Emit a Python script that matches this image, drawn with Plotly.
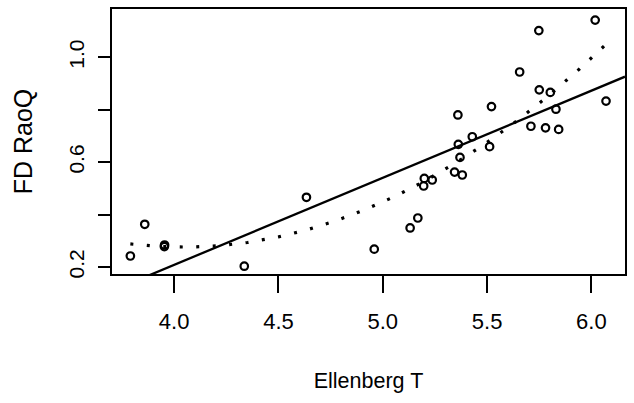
import numpy as np
import plotly.graph_objects as go

# Community-weighted Ellenberg temperature value per plot
ellenberg_t = [3.790, 3.859, 3.954, 3.953, 4.336, 4.634, 4.959, 5.131, 5.168, 5.196,
               5.199, 5.237, 5.344, 5.381, 5.370, 5.362, 5.360, 5.429, 5.521, 5.512,
               5.656, 5.748, 5.750, 5.803, 5.710, 5.780, 5.830, 5.843, 6.018, 6.070]
# Functional diversity (Rao's Q) per plot
fd_raoq = [0.242, 0.363, 0.284, 0.278, 0.203, 0.466, 0.268, 0.349, 0.387, 0.509,
           0.538, 0.532, 0.562, 0.551, 0.618, 0.668, 0.780, 0.697, 0.812, 0.659,
           0.944, 1.102, 0.876, 0.866, 0.737, 0.731, 0.802, 0.725, 1.142, 0.833]

# Fitted models: linear (slope, intercept) and quadratic in (T - 5)
linear_fit = [0.3323, -1.121]
quadratic_fit = [0.1886, 0.3605, 0.448]
quadratic_center = 5.0

x_ticks = [4.0, 4.5, 5.0, 5.5, 6.0]
x_tick_text = ["4.0", "4.5", "5.0", "5.5", "6.0"]
y_ticks = [0.2, 0.4, 0.6, 0.8, 1.0]
y_tick_text = ["0.2", "", "0.6", "", "1.0"]

x_range = [3.702, 6.161]
y_range = [0.1733, 1.1843]

x = np.array(ellenberg_t)
x_line = np.array(x_range)
x_curve = np.linspace(x.min(), x.max(), 200)

FONT = "Liberation Sans, Arial, Helvetica, sans-serif"

fig = go.Figure()
# quadratic trend, dotted
fig.add_trace(go.Scatter(
    x=x_curve, y=np.polyval(quadratic_fit, x_curve - quadratic_center), mode="lines",
    line=dict(color="black", width=3.2, dash="3px,13.5px"),
    hoverinfo="skip"))
# linear regression line across the full panel
fig.add_trace(go.Scatter(
    x=x_line, y=np.polyval(linear_fit, x_line), mode="lines",
    line=dict(color="black", width=2.3),
    hoverinfo="skip"))
fig.add_trace(go.Scatter(
    x=ellenberg_t, y=fd_raoq, mode="markers",
    marker=dict(symbol="circle-open", size=7.5, color="black",
                line=dict(color="black", width=2.2))))

fig.update_layout(
    width=634, height=403,
    margin=dict(l=112, r=7, t=9, b=129),
    paper_bgcolor="white", plot_bgcolor="white",
    showlegend=False,
    font=dict(family=FONT, color="black"),
)
fig.update_xaxes(
    range=x_range, tickvals=x_ticks, ticktext=x_tick_text,
    showgrid=False, zeroline=False,
    showline=True, mirror=True, linecolor="black", linewidth=2,
    ticks="outside", ticklen=17, tickwidth=1.6, tickcolor="black",
    tickfont=dict(size=22), ticklabelstandoff=10,
    title=dict(text="Ellenberg T", font=dict(size=21.5), standoff=40),
)
fig.update_yaxes(
    range=y_range, tickvals=y_ticks, ticktext=y_tick_text,
    showgrid=False, zeroline=False,
    showline=True, mirror=True, linecolor="black", linewidth=2,
    ticks="outside", ticklen=12, tickwidth=1.6, tickcolor="black",
    tickangle=-90, tickfont=dict(size=21), ticklabelstandoff=6,
    title=dict(text="FD RaoQ", font=dict(size=25), standoff=25),
)

fig.write_html("out.html")
